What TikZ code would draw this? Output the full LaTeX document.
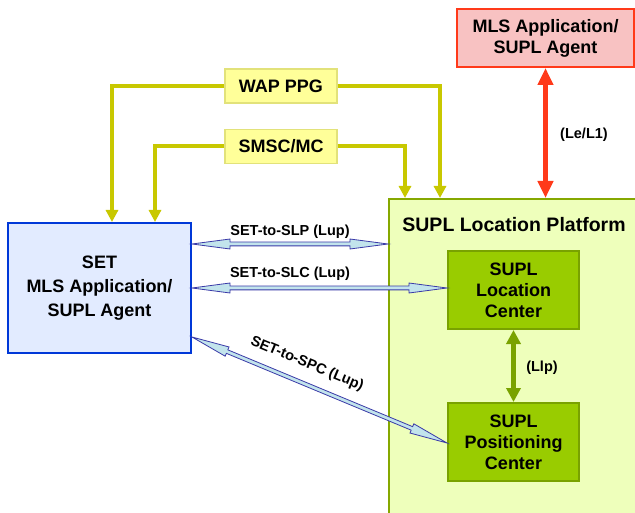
\documentclass[tikz,border=0pt]{standalone}
\usepackage{fontspec}
\setmainfont{Liberation Sans}
\usetikzlibrary{arrows.meta,calc}
\definecolor{redfill}{HTML}{F8C2C2}
\definecolor{redline}{HTML}{FF3A1A}
\definecolor{platfill}{HTML}{EEFFBB}
\definecolor{platline}{HTML}{86A800}
\definecolor{grfill}{HTML}{99CC00}
\definecolor{grline}{HTML}{79A200}
\definecolor{yfill}{HTML}{FFFF99}
\definecolor{yline}{HTML}{E2E27A}
\definecolor{yconn}{HTML}{C8C800}
\definecolor{setfill}{HTML}{E2EBFF}
\definecolor{setline}{HTML}{0038D8}
\definecolor{bafill}{HTML}{C2E4EC}
\definecolor{baline}{HTML}{3A3AA8}
\tikzset{
  mainfont/.style={font=\bfseries\fontsize{18}{21}\selectfont},
  lblfont/.style={font=\bfseries\fontsize{14.5}{17}\selectfont},
  redbox/.style={draw=redline, fill=redfill, line width=2pt, align=center, mainfont, inner sep=0pt},
  greenbox/.style={draw=grline, fill=grfill, line width=2pt, align=center, mainfont, inner sep=0pt, minimum width=131, minimum height=78},
  ybox/.style={draw=yline, fill=yfill, line width=1.2pt, align=center, mainfont, inner sep=0pt, minimum width=112, minimum height=34},
  setbox/.style={draw=setline, fill=setfill, line width=2pt, align=center, font=\bfseries\fontsize{18}{24}\selectfont, inner sep=0pt},
  yconnector/.style={draw=yconn, line width=4pt, -{Triangle[length=12pt,width=12pt]}},
  redconnector/.style={draw=redline, line width=5pt, {Triangle[length=17pt,width=15pt]}-{Triangle[length=17pt,width=15pt]}},
  grconnector/.style={draw=grline, line width=5pt, {Triangle[length=14pt,width=14pt]}-{Triangle[length=14pt,width=14pt]}},
  blarrow/.style={draw=baline, fill=bafill, line width=0.8pt, line join=miter},
  lbl/.style={lblfont, inner sep=0pt}
}
\newcommand\dblarr[2]{%
  \filldraw[blarrow] (#1)
    -- ($(#1)!38pt!(#2)!5pt!90:(#2)$)
    -- ($(#1)!38pt!(#2)!1.9pt!90:(#2)$)
    -- ($(#2)!38pt!(#1)!1.9pt!-90:(#1)$)
    -- ($(#2)!38pt!(#1)!5pt!-90:(#1)$)
    -- (#2)
    -- ($(#2)!38pt!(#1)!5pt!90:(#1)$)
    -- ($(#2)!38pt!(#1)!1.9pt!90:(#1)$)
    -- ($(#1)!38pt!(#2)!1.9pt!-90:(#2)$)
    -- ($(#1)!38pt!(#2)!5pt!-90:(#2)$)
    -- cycle;}
\begin{document}
\begin{tikzpicture}[x=1pt,y=-1pt]
\useasboundingbox (0,0) rectangle (635,513);
\fill[white] (0,0) rectangle (635,513);
\begin{scope}
\clip (0,0) rectangle (635,513);
\node[draw=platline, fill=platfill, line width=2pt, minimum width=260, minimum height=330, anchor=north west, inner sep=0pt] (slp) at (388,198) {};
\node[redbox, minimum width=177, minimum height=58] (red) at (545.5,38) {MLS Application/\\SUPL Agent};
\end{scope}
\node[font=\bfseries\fontsize{19.5}{22}\selectfont, inner sep=0pt] (sltitle) at (514,225) {SUPL Location Platform};
\node[greenbox] (slc) at (513.5,290) {SUPL\\Location\\Center};
\node[greenbox] (spc) at (513.5,442) {SUPL\\Positioning\\Center};
\node[setbox, minimum width=183, minimum height=130] (set) at (99.5,288) {SET\\MLS Application/\\SUPL Agent};
\node[ybox] (wap) at (281,86) {WAP PPG};
\node[ybox] (smsc) at (281,146.5) {SMSC/MC};
% yellow connectors
\draw[yconnector] (wap.west) -| (set.north -| 112,0);
\draw[yconnector] (wap.east) -| (slp.north -| 440,0);
\draw[yconnector] (smsc.west) -| (set.north -| 155,0);
\draw[yconnector] (smsc.east) -| (slp.north -| 405,0);
% red and green
\draw[redconnector] (red.south) -- (red.south |- slp.north);
\node[lbl] (lele) at (584,135) {(Le/L1)};
\draw[grconnector] (slc.south) -- (spc.north);
\node[lbl] (llp) at (542,368) {(Llp)};
% blue double arrows
\coordinate (a1) at (set.east |- 0,244);
\coordinate (b1) at (slp.west |- 0,244);
\dblarr{a1}{b1}
\node[lbl] (l1) at (290,232) {SET-to-SLP (Lup)};
\coordinate (a2) at (set.east |- 0,288);
\coordinate (b2) at (slc.west |- 0,288);
\dblarr{a2}{b2}
\node[lbl] (l2) at (290,274) {SET-to-SLC (Lup)};
\coordinate (a3) at (set.east |- 0,337);
\coordinate (b3) at (spc.west |- 0,443);
\dblarr{a3}{b3}
\node[lbl, rotate=-22.5] (l3) at (307,364) {SET-to-SPC (Lup)};
\end{tikzpicture}
\end{document}
